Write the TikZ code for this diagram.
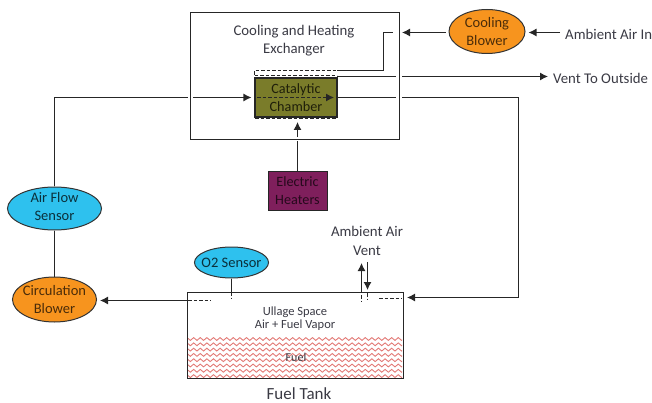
\documentclass[tikz,border=0pt]{standalone}
\usepackage{fontspec}
\setmainfont{Carlito}
\usetikzlibrary{arrows.meta,decorations.pathmorphing,shapes.geometric}
\definecolor{inktext}{HTML}{3A3A44}
\definecolor{sensorblue}{HTML}{2EC1EE}
\definecolor{blowerorange}{HTML}{F7941E}
\definecolor{chamberolive}{HTML}{7A7C2A}
\definecolor{heaterpurple}{HTML}{7F1F5C}
\definecolor{fuelred}{HTML}{E27A76}
\tikzset{
	label text/.style={text=inktext,font=\fontsize{14.8}{18.5}\selectfont,align=center,inner sep=0},
	sensor/.style={draw=black!80,line width=1,ellipse,fill=sensorblue,inner sep=-5,text=black!75!sensorblue,font=\fontsize{14.5}{18}\selectfont,align=center},
	blower/.style={draw=black!80,line width=1,ellipse,fill=blowerorange,inner sep=-5,text=black!70!blowerorange,font=\fontsize{14.5}{18}\selectfont,align=center},
	flow/.style={line width=1.1,-{Latex[length=8pt,width=8pt]},black!85},
	plain flow/.style={line width=1.1,black!85},
	gap/.style={white,line width=3pt},
	inner dash/.style={line width=1,dashed,dash pattern=on 3.5pt off 2pt,black!85},
}
\begin{document}
\begin{tikzpicture}[x=1pt,y=-1pt]
	\useasboundingbox (0,0) rectangle (652,403);
	% nodes
	\node[draw=black!85,line width=1.1,fill=chamberolive,minimum width=82,minimum height=39,inner sep=0,align=center,text=black!75!chamberolive,font=\fontsize{14.2}{18}\selectfont] (chamber) at (296,97.5) {Catalytic\\Chamber};
	\node[draw=black!85,line width=1,fill=heaterpurple,minimum width=59,minimum height=38,inner sep=0,align=center,text=black!70!heaterpurple,font=\fontsize{14.2}{18}\selectfont] (heaters) at (297.5,191) {Electric\\Heaters};
	\node[sensor,minimum width=94,minimum height=43,text depth=4] (airflow) at (54.5,208.5) {Air Flow\\Sensor};
	\node[blower,minimum width=84,minimum height=45] (circulation) at (54.5,299.5) {Circulation\\Blower};
	\node[blower,minimum width=76,minimum height=44] (cooling) at (487,31.5) {Cooling\\Blower};
	\node[sensor,minimum width=74,minimum height=31] (otwo) at (231.5,262.5) {O2 Sensor};
	\node[label text] (exchangerlabel) at (294,40.5) {Cooling and Heating\\Exchanger};
	\node[label text,anchor=west] (ambientin) at (565,34) {Ambient Air In};
	\node[label text,anchor=west] (ventout) at (553,78) {Vent To Outside};
	\node[label text] (ventlabel) at (367,241) {Ambient Air\\Vent};
	\node[label text,font=\fontsize{12.5}{13}\selectfont] (ullage) at (295,319) {Ullage Space\\Air + Fuel Vapor};
	\node[label text,font=\fontsize{17}{20}\selectfont] (tanklabel) at (299,394) {Fuel Tank};
	% free ends
	\coordinate (exchangerin) at (383.5,32.5);
	\coordinate (exchangerwall) at (402,32.5);
	\coordinate (ventstart) at (337,76.5);
	\coordinate (ventend) at (548,76.5);
	\coordinate (returncorner) at (518.5,97.5);
	\coordinate (tankin) at (407,297.5);
	\coordinate (tankout) at (187,300.5);
	\coordinate (ventup) at (361.5,292);
	\coordinate (ventdown) at (367.5,290);
	% connectors
	\draw[flow,shorten >=3] (airflow.north) |- (chamber.west);
	\draw[flow] (heaters.north) -- (297.5,122);
	\draw[flow,shorten <=3] (cooling.west |- exchangerwall) -- (exchangerwall);
	\draw[flow] (ventstart) -- (ventend);
	\draw[flow,shorten >=3] (ambientin.west |- exchangerwall) ++(-5,0) -- (cooling.east |- exchangerwall);
	\draw[plain flow] (chamber.east) -- (returncorner) -- (returncorner |- tankin);
	\draw[flow] (returncorner |- tankin) -- (tankin);
	\draw[plain flow] (airflow.south) -- (circulation.north);
	\draw[flow,shorten >=3] (tankout) -- (circulation.east |- tankout);
	\draw[plain flow] (otwo.south) -- (231.5,292);
	\draw[flow] (ventup) -- (361.5,263);
	\draw[flow] (367.5,262) -- (ventdown);
	\draw[plain flow] (337,70.5) -- (383.5,70.5) -- (exchangerin) -- (393,32.5);
	% openings in the exchanger walls
	\draw[gap] (187.5,97.5) -- (193,97.5);
	\draw[gap] (396,76.5) -- (402,76.5);
	\draw[gap] (396,97.5) -- (402,97.5);
	\draw[gap] (396,32.5) -- (402,32.5);
	\draw[gap] (297.5,137) -- (297.5,141.5);
	\draw[line width=1.1,black!85] (190.5,12.5) rectangle (399.5,139.5);
	% dashed chamber outline
	\draw[inner dash] (254.5,75) -- (254.5,70.5) -- (337,70.5);
	\draw[inner dash] (254.5,75.5) -- (337,75.5);
	\draw[inner dash] (255,118.5) -- (337,118.5);
	\draw[inner dash,-{Latex[length=8pt,width=8pt]}] (257,97.5) -- (334,97.5);
	% tank
	\begin{scope}
		\clip (188,337) rectangle (402,377);
		\foreach \row in {0,...,7} {
			\draw[fuelred,line width=0.9,decorate,decoration={snake,amplitude=1.4,segment length=6.6}] (185,339+\row*5.3) -- (405,339+\row*5.3);
		}
	\end{scope}
	\node[label text,font=\fontsize{12}{13}\selectfont] (fuel) at (296,357) {Fuel};
	\node[draw=black!85,line width=1.1,minimum width=216,minimum height=86,inner sep=0] (tank) at (295.5,335.5) {};
	\draw[inner dash] (188,300.5) -- (211,300.5);
	\draw[inner dash] (379,298) -- (402,298);
	\draw[inner dash] (231.5,292) -- (231.5,298);
	\draw[inner dash] (361.5,295) -- (361.5,301);
	\draw[inner dash] (367.5,293) -- (367.5,299);
\end{tikzpicture}
\end{document}
